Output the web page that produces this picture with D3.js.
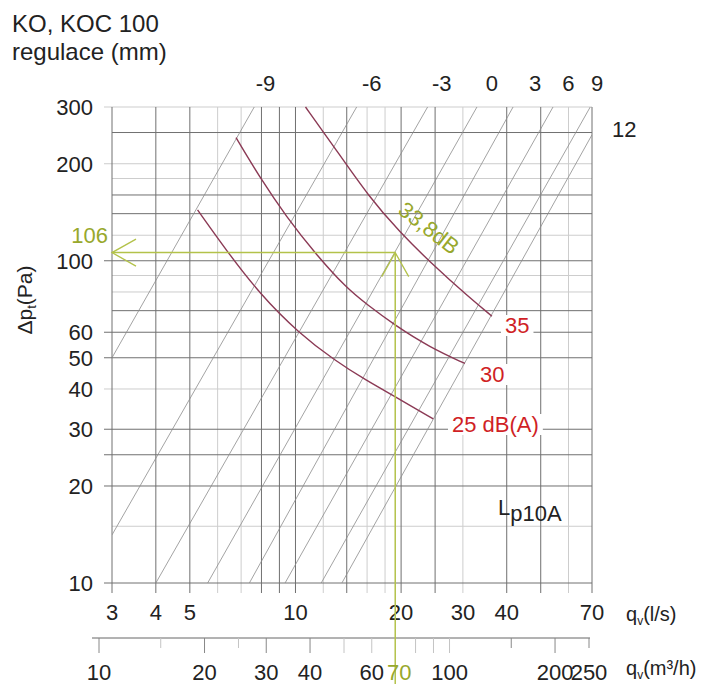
<!DOCTYPE html>
<html><head><meta charset="utf-8">
<script src="https://cdn.jsdelivr.net/npm/d3@7"></script>
<style>body{margin:0;background:#fff} svg{display:block} text{font-family:"Liberation Sans",Arial,sans-serif}</style>
</head><body><svg id="c" width="702" height="684"></svg>
<script>
// ---- data ----
const xGridDark = [3,4,5,8,9,10,14,20,25,40,50,70];
const xGridLight = [6,7,12,16,18,30,60];
const yGridDark = [10,20,25,30,50,60,70,100,140,160,250];
const yGridLight = [15,40,80,90,120,180,200,300];
const xTickLabels = [3,4,5,10,20,30,40,70];
const yTickLabels = [10,20,30,40,50,60,100,200,300];
const yTickExtra = [25];
const m3hLong = [10,20,30,40,50,60,80,90,100,200];
const m3hShort = [15,25,150,250];
const m3hLight = [15,25,50,60,80,90,100];
const m3hLabels = [10,20,30,40,60,100,200,250];
const regLabels = ["-9","-6","-3","0","3","6","9"];
const regLabelQ = [8.21,16.5,26.1,36.3,48.2,59.9,72.4];
const regStart = [[3,50],[3,14.1],[4,10],[5.62,10],[7.39,10],[9.34,10],[11.84,10],[13.56,10]];
const regEnd = [[7.63,300],[14.94,300],[23.8,300],[32.9,300],[41.7,300],[54.2,300],[69.2,300],[70,246]];
const noise25 = [[5.26,143.8],[6.34,108],[7.89,79.1],[10.26,59.4],[12.93,49.1],[15.92,42.5],[19.39,37.7],[24.7,32.3]];
const noise30 = [[6.77,240.9],[7.89,182.2],[9.42,136.8],[11.48,104.2],[13.99,82.2],[15.95,73.3],[19.18,63.1],[24.15,53.9],[30.4,48.0]];
const noise35 = [[10.68,300],[12.76,229.1],[16.27,156.7],[19.82,122.9],[24.15,99.1],[31.4,76.6],[36.3,67.3]];
const noiseLabels = ["25 dB(A)","30","35"];
const opFlow = 70;   // m3/h
const opPress = 106; // Pa

// ---- scales ----
const svg = d3.select("#c");
const x = d3.scaleLog().domain([3,70]).range([112,592]);
const y = d3.scaleLog().domain([10,300]).range([583,107]);
const xM = d3.scaleLog().domain([10,250]).range([99,589]);
const yTop = y(300), yBot = y(10), tickBot = 593, tickLeft = 104;
const dark = "#707070", light = "#cdcdcd", txt = "#222";
const green = "#b3c24a", greenTxt = "#98a82c", red = "#d01f26", maroon = "#8b3a55";

// ---- grid ----
const g = svg.append("g");
function vgrid(vals, color){
  g.selectAll(null).data(vals).enter().append("line")
   .attr("x1",d=>x(d)).attr("x2",d=>x(d)).attr("y1",yTop).attr("y2",tickBot)
   .attr("stroke",color).attr("stroke-width",1);
}
function hgrid(vals, color){
  g.selectAll(null).data(vals).enter().append("line")
   .attr("x1",d=>(yTickLabels.includes(d)||yTickExtra.includes(d))?tickLeft:x(3))
   .attr("x2",x(70)).attr("y1",d=>y(d)).attr("y2",d=>y(d))
   .attr("stroke",color).attr("stroke-width",1);
}
vgrid(xGridLight, light); hgrid(yGridLight, light);
vgrid(xGridDark, dark); hgrid(yGridDark, dark);

// ---- regulation lines ----
svg.append("clipPath").attr("id","plot").append("rect")
  .attr("x",x(3)).attr("y",yTop).attr("width",x(70)-x(3)).attr("height",yBot-yTop);
const lineG = svg.append("g").attr("clip-path","url(#plot)");
const segLine = d3.line().x(d=>x(d[0])).y(d=>y(d[1]));
regStart.forEach((s,i)=>{
  lineG.append("path").attr("d",segLine([s,regEnd[i]]))
    .attr("fill","none").attr("stroke","#8c8c8c").attr("stroke-width",0.8);
});

// ---- noise curves ----
const curve = d3.line().x(d=>x(d[0])).y(d=>y(d[1])).curve(d3.curveBasis);
[noise25,noise30,noise35].forEach(c=>{
  svg.append("path").attr("d",curve(c)).attr("fill","none")
    .attr("stroke",maroon).attr("stroke-width",1.4);
});

// ---- noise labels with white background ----
const nl = [[452, 432],[480, 382],[505, 333]];
nl.forEach((n,i)=>{
  const t = svg.append("text").attr("x",n[0]).attr("y",n[1])
    .attr("font-size",22).attr("fill",red).text(noiseLabels[i]);
  const b = t.node().getBBox();
  svg.insert("rect", ()=>t.node()).attr("x",b.x-4).attr("y",b.y+2)
    .attr("width",b.width+8).attr("height",b.height-4).attr("fill","#fff");
});

// ---- axes text ----
const fs = 22;
svg.selectAll(null).data(yTickLabels).enter().append("text")
  .attr("x",93).attr("y",d=>y(d)+8).attr("text-anchor","end")
  .attr("font-size",fs).attr("fill",txt).text(d=>d);
svg.selectAll(null).data(xTickLabels).enter().append("text")
  .attr("x",d=>x(d)).attr("y",620).attr("text-anchor","middle")
  .attr("font-size",fs).attr("fill",txt).text(d=>d);
svg.selectAll(null).data(regLabels).enter().append("text")
  .attr("x",(d,i)=>x(regLabelQ[i])).attr("y",91).attr("text-anchor","middle")
  .attr("font-size",fs).attr("fill",txt).text(d=>d);
svg.append("text").attr("x",612).attr("y",137).attr("font-size",fs).attr("fill",txt).text("12");

// m3/h axis
svg.append("line").attr("x1",92).attr("x2",590).attr("y1",638).attr("y2",638)
  .attr("stroke","#666").attr("stroke-width",1);
svg.selectAll(null).data(m3hLong.concat(m3hShort)).enter().append("line")
  .attr("x1",d=>xM(d)).attr("x2",d=>xM(d)).attr("y1",638)
  .attr("y2",d=>m3hShort.includes(d)?648:653)
  .attr("stroke",d=>m3hLight.includes(d)?"#c4c4c4":"#888").attr("stroke-width",1);
svg.selectAll(null).data(m3hLabels).enter().append("text")
  .attr("x",d=>xM(d)).attr("y",680).attr("text-anchor","middle")
  .attr("font-size",fs).attr("fill",txt).text(d=>d);

// axis titles
function qLabel(yy, unit){
  const t = svg.append("text").attr("x",626).attr("y",yy).attr("font-size",20).attr("fill",txt);
  t.append("tspan").text("q");
  t.append("tspan").attr("font-size",12).attr("dy",4).text("v");
  t.append("tspan").attr("dy",-4).text(unit);
}
qLabel(621,"(l/s)");
qLabel(675,"(m³/h)");

const yt = svg.append("text").attr("transform","translate(32,300) rotate(-90)")
  .attr("text-anchor","middle").attr("font-size",21).attr("fill",txt);
yt.append("tspan").text("Δp");
yt.append("tspan").attr("font-size",13).attr("dy",4).text("t");
yt.append("tspan").attr("dy",-4).text("(Pa)");

// title
svg.append("text").attr("x",12).attr("y",32).attr("font-size",24).attr("fill",txt).text("KO, KOC 100");
svg.append("text").attr("x",12).attr("y",60).attr("font-size",24).attr("fill",txt).text("regulace (mm)");

// Lp10A
const lp = svg.append("text").attr("x",498).attr("y",515).attr("font-size",22).attr("fill",txt);
lp.append("tspan").text("L");
lp.append("tspan").attr("dy",6).text("p10A");

// ---- operating point ----
const vx = xM(opFlow), hy = y(opPress);
svg.append("line").attr("x1",vx).attr("x2",vx).attr("y1",hy).attr("y2",684)
  .attr("stroke",green).attr("stroke-width",1.5);
svg.append("line").attr("x1",x(3)).attr("x2",vx).attr("y1",hy).attr("y2",hy)
  .attr("stroke",green).attr("stroke-width",1.5);
svg.append("path").attr("d",`M${x(3)+24},${hy-13.5}L${x(3)},${hy}L${x(3)+24},${hy+13.5}`)
  .attr("fill","none").attr("stroke",green).attr("stroke-width",1.3);
svg.append("path").attr("d",`M${vx-13.5},${hy+24}L${vx},${hy}L${vx+13.5},${hy+24}`)
  .attr("fill","none").attr("stroke",green).attr("stroke-width",1.3);
svg.append("text").attr("x",108).attr("y",243).attr("text-anchor","end")
  .attr("font-size",22).attr("fill",greenTxt).text(opPress);
svg.append("text").attr("x",vx+4).attr("y",680).attr("text-anchor","middle")
  .attr("font-size",22).attr("fill",greenTxt).text(opFlow);
svg.append("text").attr("transform","translate(429,228) rotate(38)")
  .attr("text-anchor","middle").attr("dy","0.35em")
  .attr("font-size",22).attr("fill",greenTxt).text("33,8dB");
</script></body></html>
